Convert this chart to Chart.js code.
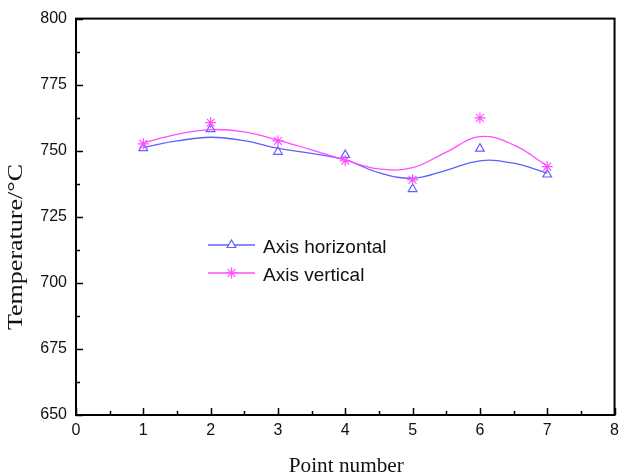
<!DOCTYPE html>
<html>
<head>
<meta charset="utf-8">
<script src="https://cdn.jsdelivr.net/npm/chart.js@4.4.1/dist/chart.umd.min.js"></script>
<style>
  html, body { margin: 0; padding: 0; background: #fff; overflow: hidden; }
  canvas { display: block; }
</style>
</head>
<body>
<canvas id="grafica" width="625" height="476"></canvas>
<script>
// puntos medidos
const puntos = [1, 2, 3, 4, 5, 6, 7];
const tempHorizontal = [751, 758.2, 749.6, 748.4, 735.5, 750.8, 741];
const tempVertical = [752.6, 760.6, 753.7, 746.2, 739, 762.4, 744];

// curvas ajustadas, leidas cada medio punto
const curvaX = [1, 1.5, 2, 2.5, 3, 3.5, 4, 4.5, 5, 5.5, 6, 6.5, 7];
const curvaHorizontal = [751.3, 753.7, 755.1, 753.8, 750.9, 749, 746.5, 741.7, 739.6, 742.6, 746.2, 745.3, 741.5];
const curvaVertical = [753, 756.2, 758, 757.1, 754, 750.3, 746.5, 743.1, 743.6, 749.5, 755.3, 752.2, 744.2];

const xTicks = [0, 1, 2, 3, 4, 5, 6, 7, 8];
const yTicks = [650, 675, 700, 725, 750, 775, 800];

const leyenda = ['Axis horizontal', 'Axis vertical'];

const azul = '#6060ff';
const magenta = '#ff4dff';

function pares(xs, ys) {
    return xs.map((x, i) => ({ x: x, y: ys[i] }));
}

// marco y ticks hacia adentro
const marcoPlugin = {
    id: 'marco',
    afterDraw(chart) {
        const ctx = chart.ctx;
        const a = chart.chartArea;
        const sx = chart.scales.x;
        const sy = chart.scales.y;
        ctx.save();
        ctx.strokeStyle = '#000';
        ctx.lineWidth = 2;
        ctx.strokeRect(a.left, a.top, a.right - a.left, a.bottom - a.top);
        ctx.lineWidth = 1.5;
        ctx.beginPath();
        for (let v = 0; v <= 8; v += 0.5) {
            const px = Math.round(sx.getPixelForValue(v)) + 0.5;
            const len = Number.isInteger(v) ? 7 : 4;
            ctx.moveTo(px, a.bottom);
            ctx.lineTo(px, a.bottom - len);
        }
        for (let v = 650; v <= 800; v += 12.5) {
            const py = Math.round(sy.getPixelForValue(v)) + 0.5;
            const len = (v % 25 === 0) ? 7 : 4;
            ctx.moveTo(a.left, py);
            ctx.lineTo(a.left + len, py);
        }
        ctx.stroke();

        // titulos de ejes
        ctx.fillStyle = '#111';
        ctx.font = '20px "Liberation Serif", "Times New Roman", serif';
        ctx.textAlign = 'center';
        ctx.textBaseline = 'alphabetic';
        let t = 'Point number';
        let w = ctx.measureText(t).width;
        ctx.save();
        ctx.translate((a.left + a.right) / 2 + 1, 472);
        ctx.scale(115 / w, 1);
        ctx.fillText(t, 0, 0);
        ctx.restore();

        t = 'Temperature/\u00B0C';
        w = ctx.measureText(t).width;
        ctx.save();
        ctx.translate(22, 247);
        ctx.rotate(-Math.PI / 2);
        ctx.scale(166 / w, 1);
        ctx.fillText(t, 0, 0);
        ctx.restore();

        // leyenda
        const estilos = [
            { color: azul, pointStyle: 'triangle', radius: 5 },
            { color: magenta, pointStyle: 'star', radius: 5.5 }
        ];
        const lineasY = [245, 273];
        ctx.font = '19px "Liberation Sans", Arial, sans-serif';
        ctx.textAlign = 'left';
        leyenda.forEach((txt, i) => {
            const e = estilos[i];
            const y = lineasY[i];
            ctx.strokeStyle = e.color;
            ctx.lineWidth = 1.3;
            ctx.beginPath();
            ctx.moveTo(208, y);
            ctx.lineTo(255, y);
            ctx.stroke();
            ctx.fillStyle = '#fff';
            ctx.lineWidth = 1.2;
            Chart.helpers.drawPoint(ctx, { pointStyle: e.pointStyle, radius: e.radius, rotation: 0, borderWidth: 1.2 }, 231.5, y);
            ctx.fillStyle = '#111';
            ctx.fillText(txt, 263, y + 8);
        });
        ctx.restore();
    }
};

const ctx = document.getElementById('grafica').getContext('2d');
const chart = new Chart(ctx, {
    type: 'line',
    data: {
        datasets: [
            {
                label: 'tri',
                data: pares(puntos, tempHorizontal),
                showLine: false,
                pointStyle: 'triangle',
                pointRadius: 5,
                pointBorderColor: azul,
                pointBackgroundColor: 'rgba(255,255,255,0)',
                pointBorderWidth: 1.2,
                order: 1
            },
            {
                label: 'star',
                data: pares(puntos, tempVertical),
                showLine: false,
                pointStyle: 'star',
                pointRadius: 5.5,
                pointBorderColor: magenta,
                pointBorderWidth: 1.2,
                order: 0
            },
            {
                label: leyenda[0],
                data: pares(curvaX, curvaHorizontal),
                borderColor: azul,
                borderWidth: 1.3,
                pointRadius: 0,
                tension: 0.4,
                fill: false,
                order: 3
            },
            {
                label: leyenda[1],
                data: pares(curvaX, curvaVertical),
                borderColor: magenta,
                borderWidth: 1.3,
                pointRadius: 0,
                tension: 0.4,
                fill: false,
                order: 2
            }
        ]
    },
    options: {
        responsive: false,
        animation: false,
        layout: { autoPadding: false, padding: { left: 0, right: -3, top: 16, bottom: 0 } },
        plugins: {
            legend: { display: false },
            tooltip: { enabled: false }
        },
        scales: {
            x: {
                type: 'linear',
                min: 0,
                max: 8,
                grid: { display: false, drawTicks: false },
                border: { display: false },
                afterBuildTicks: s => { s.ticks = xTicks.map(v => ({ value: v })); },
                afterFit: s => { s.height = 61; },
                ticks: {
                    padding: 6,
                    color: '#111',
                    font: { family: '"Liberation Sans", Arial, sans-serif', size: 16 }
                }
            },
            y: {
                min: 650,
                max: 800,
                grid: { display: false, drawTicks: false },
                border: { display: false },
                afterBuildTicks: s => { s.ticks = yTicks.map(v => ({ value: v })); },
                afterFit: s => { s.width = 76; },
                ticks: {
                    padding: 9,
                    color: '#111',
                    font: { family: '"Liberation Sans", Arial, sans-serif', size: 16 }
                }
            }
        }
    },
    plugins: [marcoPlugin]
});
</script>
</body>
</html>
